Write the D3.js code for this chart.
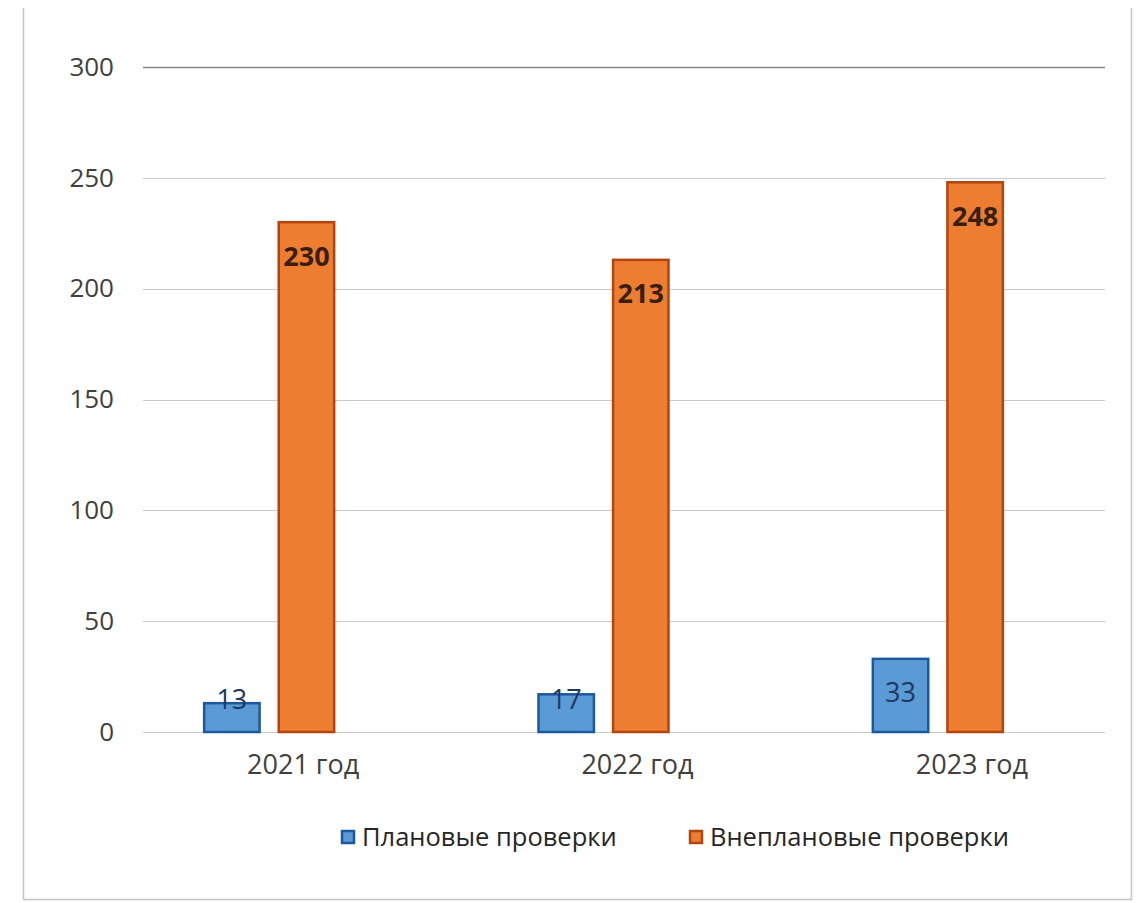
<!DOCTYPE html>
<html>
<head>
<meta charset="utf-8">
<script src="https://cdn.jsdelivr.net/npm/d3@7"></script>
<style>
  html, body { margin: 0; padding: 0; background: #ffffff; }
  svg { display: block; }
</style>
</head>
<body>
<div id="chart"></div>
<script>
// Inspection counts by year
const categories = ["2021 год", "2022 год", "2023 год"];
const seriesNames = ["Плановые проверки", "Внеплановые проверки"];
const planned = [13, 17, 33];
const unplanned = [230, 213, 248];
const yTicks = [0, 50, 100, 150, 200, 250, 300];

const W = 1145, H = 903;
const font = "'Open Sans', 'Noto Sans', sans-serif";
const fills = ["#5b9bd5", "#ed7d31"];
const strokes = ["#1c58a0", "#b4450e"];
const labelColors = ["#1f3864", "#3a1e0c"];

const svg = d3.select("#chart").append("svg")
  .attr("width", W).attr("height", H);

// chart frame
svg.append("path")
  .attr("d", "M23.5,8 V899.5 H1131.5 V8")
  .attr("fill", "none")
  .attr("stroke", "#c4c4c4")
  .attr("stroke-width", 1.5);

const y = d3.scaleLinear().domain([0, 300]).range([732, 67]);
const x = d3.scaleBand().domain(categories).range([102, 1105]).paddingInner(0).paddingOuter(0);
const xs = d3.scaleBand().domain(seriesNames).range([0, 132]).paddingInner(0.23);
const groupOffset = (x.bandwidth() - 132) / 2;

// gridlines
const gridX0 = 143, gridX1 = 1105;
svg.append("g").selectAll("line").data(yTicks).join("line")
  .attr("x1", gridX0).attr("x2", gridX1)
  .attr("y1", d => Math.round(y(d)) + 0.5).attr("y2", d => Math.round(y(d)) + 0.5)
  .attr("stroke", d => d === 300 ? "#8a8a8a" : "#c9c9c9")
  .attr("stroke-width", d => d === 300 ? 1.5 : 1.2);

// y axis labels
const yAxis = d3.axisLeft(y).tickValues(yTicks).tickSize(0).tickPadding(0);
const gy = svg.append("g").attr("transform", "translate(114,0)").call(yAxis);
gy.select(".domain").remove();
gy.selectAll("text")
  .attr("font-family", font).attr("font-size", 26).attr("fill", "#404040");

// x axis labels
const xAxis = d3.axisBottom(x).tickSize(0).tickPadding(0);
const gx = svg.append("g").attr("transform", "translate(34,755)").call(xAxis);
gx.select(".domain").remove();
gx.selectAll("text")
  .attr("font-family", font).attr("font-size", 27).attr("fill", "#404040");

// bars
const rows = categories.map((c, i) => ({ cat: c, vals: [planned[i], unplanned[i]] }));
const groups = svg.append("g").selectAll("g").data(rows).join("g")
  .attr("transform", d => `translate(${x(d.cat) + groupOffset},0)`);

groups.selectAll("rect")
  .data(d => d.vals.map((v, k) => ({ v, k })))
  .join("rect")
  .attr("x", d => xs(seriesNames[d.k]) + 1)
  .attr("width", xs.bandwidth() - 2)
  .attr("y", d => y(d.v))
  .attr("height", d => y(0) - y(d.v))
  .attr("fill", d => fills[d.k])
  .attr("stroke", d => strokes[d.k])
  .attr("stroke-width", 2.5);

// value labels
groups.selectAll("text")
  .data(d => d.vals.map((v, k) => ({ v, k })))
  .join("text")
  .attr("x", d => xs(seriesNames[d.k]) + xs.bandwidth() / 2)
  .attr("y", d => Math.min(y(d.v) + 34, 700))
  .attr("dy", "0.35em")
  .attr("text-anchor", "middle")
  .attr("font-family", font)
  .attr("font-size", 27)
  .attr("font-weight", d => d.k === 1 ? 700 : 400)
  .attr("fill", d => labelColors[d.k])
  .text(d => d.v);

// legend
const legendItems = [
  { name: seriesNames[0], x: 341 },
  { name: seriesNames[1], x: 689 }
];
const lg = svg.append("g").selectAll("g").data(legendItems).join("g")
  .attr("transform", d => `translate(${d.x},837)`);
lg.append("rect")
  .attr("x", 1).attr("y", -6).attr("width", 12).attr("height", 12)
  .attr("fill", (d, i) => fills[i])
  .attr("stroke", (d, i) => strokes[i])
  .attr("stroke-width", 2.5);
lg.append("text")
  .attr("x", 21).attr("dy", "0.35em")
  .attr("font-family", font).attr("font-size", 25.5).attr("fill", "#262626")
  .text(d => d.name);
</script>
</body>
</html>
